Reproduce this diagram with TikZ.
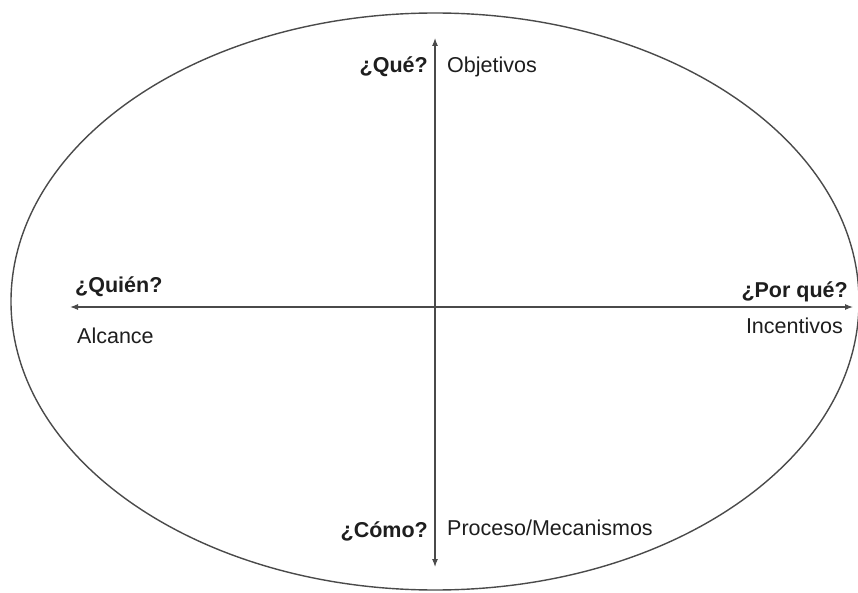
\documentclass[tikz,border=0pt]{standalone}
\usepackage{fontspec}
\setmainfont{Liberation Sans}
\usetikzlibrary{arrows.meta}
\definecolor{linec}{HTML}{4A4A4A}
\definecolor{textc}{HTML}{1E1E1E}
\tikzset{
  axis/.style={draw=linec, line width=1.1pt, {Latex[length=8pt,width=6pt]}-{Latex[length=8pt,width=6pt]}},
  oval/.style={draw=linec, line width=1.4pt},
  lab/.style={inner sep=0pt, text=textc, font=\fontsize{21.5}{26}\selectfont},
  blab/.style={lab, font=\fontsize{21.5}{26}\selectfont\bfseries}
}
\begin{document}
\begin{tikzpicture}[x=1pt,y=-1pt]
\useasboundingbox[fill=white] (0,0) rectangle (858,593);
\draw[oval] (435,301.5) ellipse [x radius=424, y radius=288.5];
\coordinate (top) at (435,38);
\coordinate (bot) at (435,567);
\coordinate (lft) at (70,307);
\coordinate (rgt) at (853,307);
\draw[axis] (bot) -- (top);
\draw[axis] (lft) -- (rgt);
\node[blab, anchor=base east] (que) at (428,73) {¿Qué?};
\node[lab, anchor=base west] (obj) at (447,73) {Objetivos};
\node[blab, anchor=base west] (quien) at (75,292) {¿Quién?};
\node[lab, anchor=base west] (alc) at (77,343) {Alcance};
\node[blab, anchor=base east] (porque) at (848,297) {¿Por qué?};
\node[lab, anchor=base east] (inc) at (843,333) {Incentivos};
\node[blab, anchor=base east] (como) at (428,537) {¿Cómo?};
\node[lab, anchor=base west] (proc) at (447,535) {Proceso/Mecanismos};
\end{tikzpicture}
\end{document}
